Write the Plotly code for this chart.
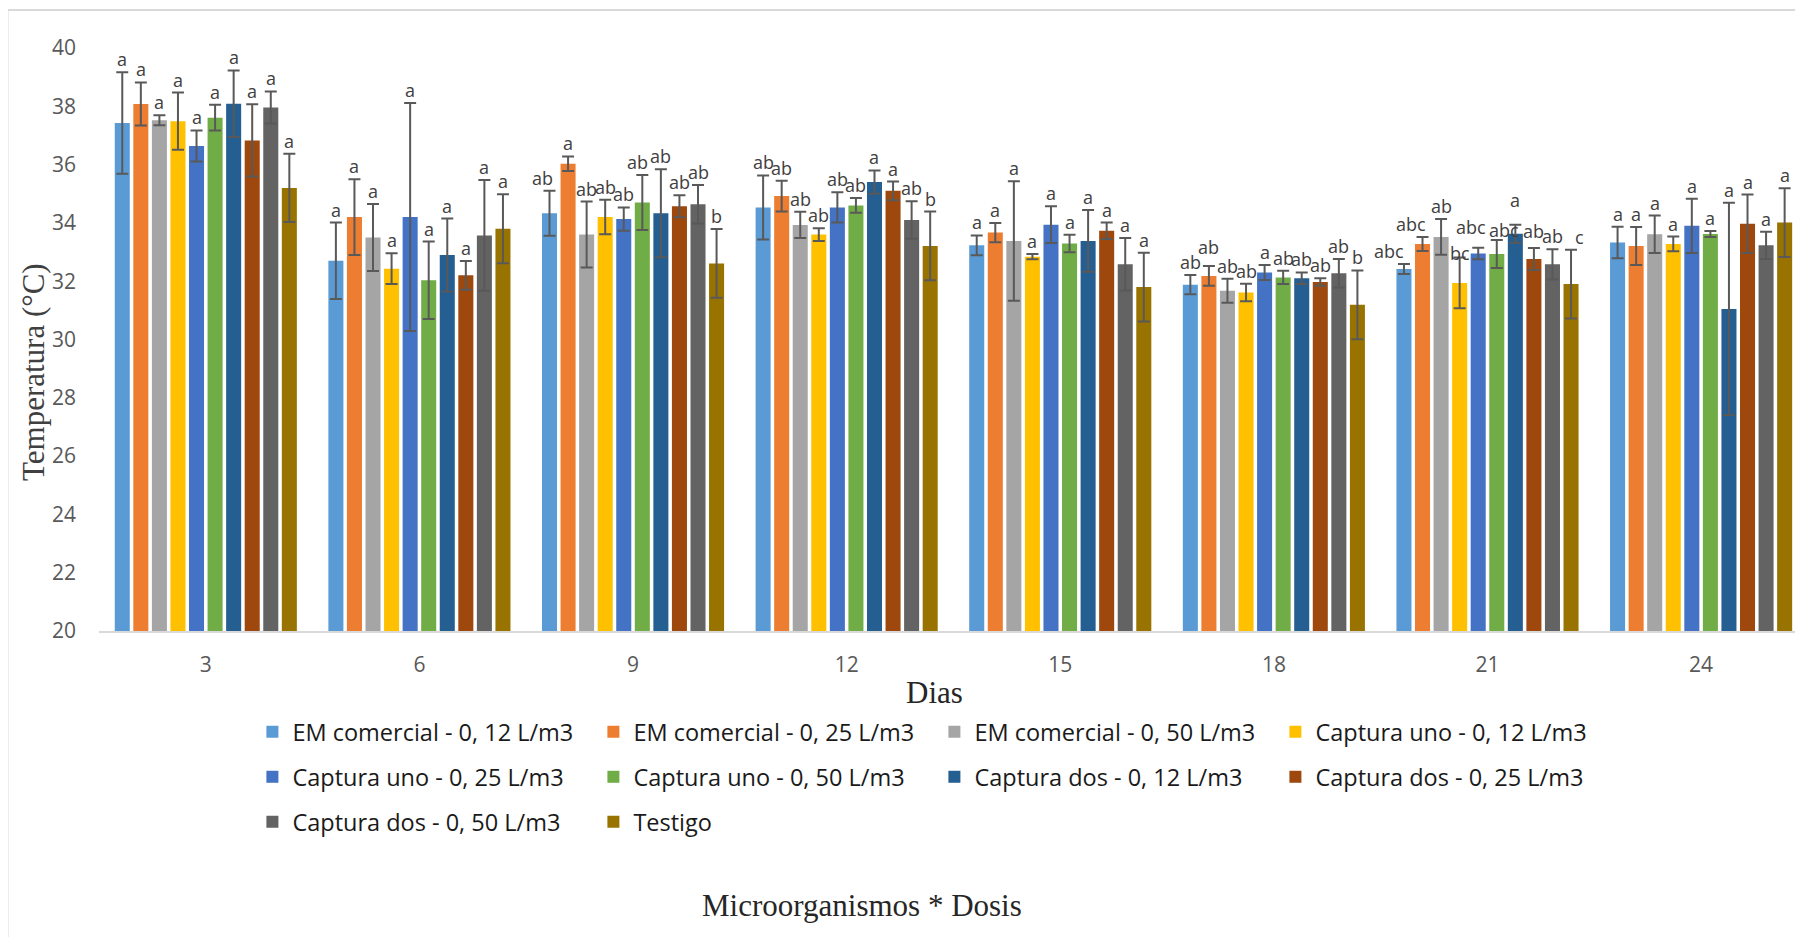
import plotly.graph_objects as go

days = ["3", "6", "9", "12", "15", "18", "21", "24"]

series_names = [
    "EM comercial - 0, 12 L/m3", "EM comercial - 0, 25 L/m3", "EM comercial - 0, 50 L/m3",
    "Captura uno - 0, 12 L/m3", "Captura uno - 0, 25 L/m3", "Captura uno - 0, 50 L/m3",
    "Captura dos - 0, 12 L/m3", "Captura dos - 0, 25 L/m3", "Captura dos - 0, 50 L/m3",
    "Testigo",
]
colors = ["#5B9BD5", "#ED7D31", "#A5A5A5", "#FFC000", "#4472C4",
          "#70AD47", "#255E91", "#9E480E", "#636363", "#997300"]

em_012 = [37.43, 32.70, 34.33, 34.53, 33.23, 31.88, 32.42, 33.33]
em_025 = [38.08, 34.20, 36.03, 34.92, 33.67, 32.18, 33.28, 33.21]
em_050 = [37.52, 33.50, 33.60, 33.93, 33.38, 31.67, 33.52, 33.61]
c1_012 = [37.49, 32.43, 34.20, 33.60, 32.84, 31.61, 31.94, 33.28]
c1_025 = [36.64, 34.20, 34.13, 34.53, 33.94, 32.30, 32.95, 33.90]
c1_050 = [37.61, 32.03, 34.70, 34.60, 33.29, 32.13, 32.93, 33.62]
c2_012 = [38.09, 32.90, 34.33, 35.40, 33.38, 32.10, 33.63, 31.05]
c2_025 = [36.83, 32.20, 34.57, 35.10, 33.73, 31.97, 32.76, 33.97]
c2_050 = [37.96, 33.57, 34.64, 34.10, 32.58, 32.27, 32.58, 33.23]
testigo = [35.20, 33.80, 32.61, 33.21, 31.80, 31.19, 31.90, 34.01]

err_em_012 = [1.74, 1.31, 0.77, 1.10, 0.34, 0.33, 0.17, 0.54]
err_em_025 = [0.74, 1.30, 0.25, 0.53, 0.33, 0.34, 0.24, 0.65]
err_em_050 = [0.17, 1.15, 1.13, 0.45, 2.05, 0.41, 0.61, 0.64]
err_c1_012 = [0.98, 0.53, 0.59, 0.22, 0.09, 0.30, 0.87, 0.25]
err_c1_025 = [0.53, 3.91, 0.40, 0.52, 0.63, 0.26, 0.20, 0.93]
err_c1_050 = [0.44, 1.33, 0.94, 0.25, 0.30, 0.23, 0.48, 0.10]
err_c2_012 = [1.14, 1.25, 1.51, 0.40, 1.06, 0.20, 0.31, 3.64]
err_c2_025 = [1.24, 0.49, 0.38, 0.32, 0.28, 0.13, 0.38, 1.00]
err_c2_050 = [0.55, 1.90, 0.66, 0.64, 0.90, 0.49, 0.52, 0.47]
err_testigo = [1.17, 1.18, 1.18, 1.18, 1.18, 1.18, 1.18, 1.18]

lab_em_012 = ["a", "a", "ab", "ab", "a", "ab", "abc", "a"]
lab_em_025 = ["a", "a", "a", "ab", "a", "ab", "abc", "a"]
lab_em_050 = ["a", "a", "ab", "ab", "a", "ab", "ab", "a"]
lab_c1_012 = ["a", "a", "ab", "ab", "a", "ab", "bc", "a"]
lab_c1_025 = ["a", "a", "ab", "ab", "a", "a", "abc", "a"]
lab_c1_050 = ["a", "a", "ab", "ab", "a", "ab", "abc", "a"]
lab_c2_012 = ["a", "a", "ab", "a", "a", "ab", "a", "a"]
lab_c2_025 = ["a", "a", "ab", "a", "a", "ab", "ab", "a"]
lab_c2_050 = ["a", "a", "ab", "ab", "a", "ab", "ab", "a"]
lab_testigo = ["a", "a", "b", "b", "a", "b", "c", "a"]

means = [em_012, em_025, em_050, c1_012, c1_025, c1_050, c2_012, c2_025, c2_050, testigo]
errs = [err_em_012, err_em_025, err_em_050, err_c1_012, err_c1_025, err_c1_050,
        err_c2_012, err_c2_025, err_c2_050, err_testigo]
labels = [lab_em_012, lab_em_025, lab_em_050, lab_c1_012, lab_c1_025, lab_c1_050,
          lab_c2_012, lab_c2_025, lab_c2_050, lab_testigo]

# small label nudges (series index, day index) -> (xshift px, yshift px), as in the source
label_nudges = {
    (0, 2): (-7, 0), (5, 2): (-5, 0),
    (1, 5): (0, 6),
    (0, 6): (-15, 0), (1, 6): (-12, 0), (3, 6): (0, -8), (4, 6): (-7, 8),
    (5, 6): (7, -3), (6, 6): (0, 12), (7, 6): (0, 4), (9, 6): (8, 0),
}

OFF = 8                      # page body margin
W, H = 1803 - OFF, 937 - OFF
ML, MR, MT, MB = 99 - OFF, 0, 48 - OFF, H - (631 - OFF)
PW, PH = W - ML - MR, H - MT - MB
BARGAP = 0.131
BARGROUPGAP = 0.19
NS = len(series_names)

def px_x(p):  # page pixel -> paper x
    return (p - OFF - ML) / PW

def px_y(p):  # page pixel -> paper y
    return (H - MB - (p - OFF)) / PH

legend_rows = ["legend", "legend2", "legend3"]

fig = go.Figure()
for j in range(NS):
    fig.add_trace(go.Bar(
        x=days, y=means[j], name=series_names[j],
        marker=dict(color=colors[j], line=dict(width=0)),
        error_y=dict(type="data", array=errs[j], visible=True,
                     color="#595959", thickness=2, width=6),
        legend=legend_rows[j // 4],
    ))

step = (1 - BARGAP) / NS
annotations = []
for j in range(NS):
    for i in range(len(days)):
        dx, dy = label_nudges.get((j, i), (0, 0))
        annotations.append(dict(
            x=i + (j - (NS - 1) / 2) * step, y=means[j][i] + errs[j][i],
            xref="x", yref="y", text=labels[j][i], showarrow=False,
            yanchor="bottom", xanchor="center", xshift=dx, yshift=dy - 1,
            font=dict(family="Open Sans", size=18, color="#404040"),
        ))

serif = dict(family="Liberation Serif", size=31, color="#262626")
annotations += [
    dict(x=px_x(934), y=px_y(692), xref="paper", yref="paper", text="Dias",
         showarrow=False, xanchor="center", yanchor="middle", font=serif),
    dict(x=px_x(34), y=px_y(372), xref="paper", yref="paper", text="Temperatura (°C)",
         showarrow=False, xanchor="center", yanchor="middle", textangle=-90,
         font=dict(serif, color="#404040")),
    dict(x=px_x(862), y=px_y(905), xref="paper", yref="paper",
         text="Microorganismos * Dosis", showarrow=False,
         xanchor="center", yanchor="middle", font=serif),
]

legend_common = dict(
    orientation="h", xanchor="left", yanchor="middle",
    x=px_x(252.4), entrywidth=296, entrywidthmode="pixels",
    font=dict(family="Open Sans", size=23.5, color="#1a1a1a"),
    bgcolor="rgba(0,0,0,0)", borderwidth=0, traceorder="normal",
)

fig.update_layout(
    width=W, height=H,
    margin=dict(l=ML, r=MR, t=MT, b=MB, autoexpand=False),
    paper_bgcolor="white", plot_bgcolor="white",
    barmode="group", bargap=BARGAP, bargroupgap=BARGROUPGAP,
    showlegend=True,
    legend=dict(legend_common, y=px_y(732)),
    legend2=dict(legend_common, y=px_y(777)),
    legend3=dict(legend_common, y=px_y(822)),
    xaxis=dict(
        type="category", range=[-0.5, 7.477],
        showline=True, linecolor="#d9d9d9", linewidth=2,
        showgrid=False, zeroline=False, ticks="",
        tickfont=dict(family="Open Sans", size=21, color="#595959"),
        ticklabelstandoff=14,
    ),
    yaxis=dict(
        range=[20, 40], dtick=2, tick0=20,
        showline=False, showgrid=False, zeroline=False, ticks="",
        tickfont=dict(family="Open Sans", size=21, color="#595959"),
        ticklabelstandoff=22,
    ),
    annotations=annotations,
    shapes=[dict(
        type="rect", xref="paper", yref="paper",
        x0=px_x(7.5), x1=px_x(1830), y0=px_y(960), y1=px_y(10),
        line=dict(color="#d9d9d9", width=2), fillcolor="rgba(0,0,0,0)",
        layer="below",
    )],
)

fig.write_html("out.html")
